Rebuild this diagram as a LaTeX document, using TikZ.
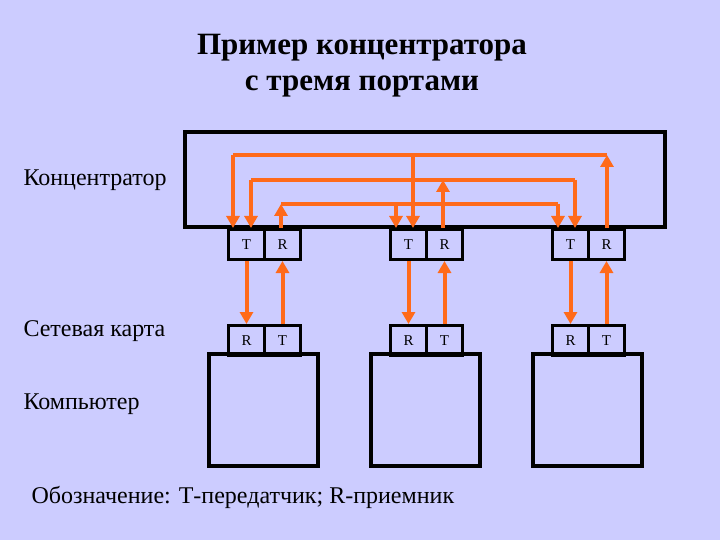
\documentclass[tikz,border=0pt]{standalone}
\usepackage{fontspec}
\setmainfont{Liberation Serif}
\usetikzlibrary{arrows.meta}
\definecolor{bg}{HTML}{CCCCFF}
\definecolor{org}{HTML}{FF6A1A}
\begin{document}
\begin{tikzpicture}[x=1pt,y=-1pt,
  box/.style={draw=black,line width=3.5pt},
  pbox/.style={draw=black,line width=3pt,minimum width=36pt,minimum height=30pt,inner sep=0pt,font=\fontsize{15}{17}\selectfont,anchor=north west},
  wire/.style={org,line width=4pt,line join=round},
  arr/.style={wire,-{Triangle[length=12pt,width=13pt]}},
  lbl/.style={font=\fontsize{24}{28}\selectfont,anchor=west}]
\fill[bg] (0,0) rectangle (720,540);
\useasboundingbox (0,0) rectangle (720,540);
\node[font=\fontsize{31}{36}\selectfont\bfseries,align=center] (title) at (362,66) {Пример концентратора\\с тремя портами};
\draw[box] (185,132) rectangle (665,227);
\node[lbl] (l1) at (20,180) {Концентратор};
\node[lbl] (l2) at (20,331) {Сетевая карта};
\node[lbl] (l3) at (20,404) {Компьютер};
\node[lbl] (l4) at (28,497) {Обозначение: Т-передатчик; R-приемник};
% ports
\foreach \i/\x in {1/227,2/389,3/551}{
  \node[pbox] (t\i) at (\x,228) {T};
  \node[pbox] (r\i) at (\x+36,228) {R};
  \node[pbox] (cr\i) at (\x,324) {R};
  \node[pbox] (ct\i) at (\x+36,324) {T};
  \draw[box] (\x-18,354) rectangle (\x+91,466);
  \draw[arr] (t\i.south) -- (cr\i.north);
  \draw[arr] (ct\i.north) -- (r\i.south);
}
% hub wiring
\coordinate (a1) at (233,155); \coordinate (a2) at (607,155); \coordinate (a3) at (413,155);
\coordinate (b1) at (251,180); \coordinate (b2) at (575,180); \coordinate (b3) at (443,180);
\coordinate (c1) at (281,204); \coordinate (c2) at (558,204); \coordinate (c3) at (396,204);
\draw[wire] (a1) -- (a2);
\draw[wire] (b1) -- (b2);
\draw[wire] (c1) -- (c2);
\draw[arr] (a1) -- (233,228);
\draw[arr] (a3) -- (413,228);
\draw[arr] (607,228) -- (a2);
\draw[arr] (b1) -- (251,228);
\draw[arr] (b2) -- (575,228);
\draw[arr] (443,228) -- (b3);
\draw[arr] (281,228) -- (c1);
\draw[arr] (c2) -- (558,228);
\draw[arr] (c3) -- (396,228);
\end{tikzpicture}
\end{document}
